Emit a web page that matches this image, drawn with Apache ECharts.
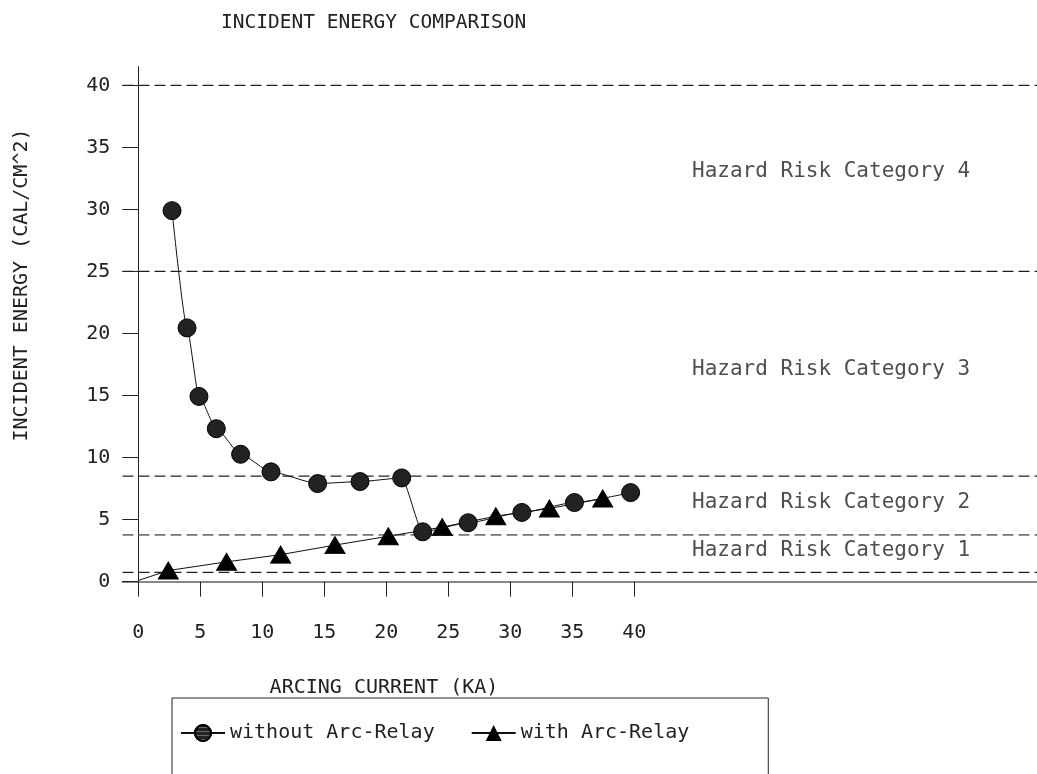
<!DOCTYPE html>
<html><head><meta charset="utf-8">
<script src="https://cdn.jsdelivr.net/npm/echarts@6/dist/echarts.min.js"></script>
<style>html,body{margin:0;padding:0;background:#fff}#c{width:1037px;height:774px}</style>
</head><body><div id="c"></div>
<script>
// ---- data ----
const xTicks = [0, 5, 10, 15, 20, 25, 30, 35, 40];
const yTicks = [0, 5, 10, 15, 20, 25, 30, 35, 40];
const withoutX = [2.72, 3.93, 4.89, 6.29, 8.25, 10.7, 14.46, 17.88, 21.24, 22.93, 26.6, 30.93, 35.17, 39.7];
const withoutY = [29.9, 20.45, 14.93, 12.33, 10.27, 8.85, 7.91, 8.07, 8.36, 4.02, 4.75, 5.58, 6.38, 7.18];
const withX = [0, 2.42, 7.12, 11.48, 15.86, 20.16, 24.51, 28.83, 33.15, 37.45];
const withY = [0.1, 0.9, 1.6, 2.18, 2.95, 3.66, 4.4, 5.28, 5.9, 6.7];
const hazardBounds = [0.75, 3.78, 8.5, 25, 40];
const hazardLabels = ['Hazard Risk Category 1', 'Hazard Risk Category 2', 'Hazard Risk Category 3', 'Hazard Risk Category 4'];
const hazardLabelY = [2.48, 6.35, 17.07, 33.04];
const hazardLabelX = 44.65;
const seriesNames = ['without Arc-Relay', 'with Arc-Relay'];

// ---- chart ----
const FONT = '"DejaVu Sans Mono", monospace';
const TXT = '#222';
const chart = echarts.init(document.getElementById('c'), null, {renderer: 'canvas'});

const withoutData = withoutX.map((x, i) => [x, withoutY[i]]);
const withData = withX.map((x, i) => i === 0 ? {value: [x, withY[i]], symbol: 'none'} : [x, withY[i]]);

const boundSeries = hazardBounds.map((v, i) => ({
  type: 'line', xAxisIndex: 1, yAxisIndex: 1, silent: true, symbol: 'none',
  data: [[0, v], [1, v]],
  lineStyle: {type: [11, 5], width: i === 1 ? 1.8 : 1.2, color: i === 1 ? '#777' : '#222'},
  z: 1
}));

const hatch = {symbol: 'rect', symbolSize: 1, dashArrayX: [1, 0], dashArrayY: [1, 3], color: 'rgba(150,150,150,0.6)', rotation: 0};

const option = {
  animation: false,
  backgroundColor: '#fff',
  title: {
    text: 'INCIDENT ENERGY COMPARISON', left: 216, top: 8,
    textStyle: {fontFamily: FONT, fontSize: 19.5, fontWeight: 'normal', color: TXT}
  },
  legend: {
    data: seriesNames.map(n => ({name: n})),
    left: 172, top: 698, orient: 'horizontal',
    borderColor: '#222', borderWidth: 1,
    padding: [25, 79, 50, 8],
    itemWidth: 44, itemHeight: 20, itemGap: 36,
    textStyle: {fontFamily: FONT, fontSize: 20, color: TXT}
  },
  grid: [
    {left: 138.3, right: 0, top: 66.7, bottom: 192.3, containLabel: false},
    {left: 122.5, right: 0, top: 66.7, bottom: 192.3, containLabel: false}
  ],
  xAxis: [
    {
      type: 'value', gridIndex: 0, min: 0, max: 72.47, interval: 5,
      axisLine: {show: false},
      axisTick: {show: true, length: 15, lineStyle: {color: '#222', width: 1}, customValues: xTicks},
      axisLabel: {show: true, margin: 41, fontFamily: FONT, fontSize: 20, color: TXT, customValues: xTicks},
      splitLine: {show: false}
    },
    {
      type: 'value', gridIndex: 1, min: 0, max: 1,
      axisLine: {show: true, lineStyle: {color: '#888', width: 2}},
      axisTick: {show: false}, axisLabel: {show: false}, splitLine: {show: false}
    }
  ],
  yAxis: [
    {
      type: 'value', gridIndex: 0, min: 0, max: 41.5, interval: 5,
      axisLine: {show: true, onZero: false, lineStyle: {color: '#222', width: 1}},
      axisTick: {show: true, length: 16, lineStyle: {color: '#222', width: 1}, customValues: yTicks},
      axisLabel: {show: true, margin: 28, fontFamily: FONT, fontSize: 20, color: TXT, customValues: yTicks},
      splitLine: {show: false}
    },
    {
      type: 'value', gridIndex: 1, min: 0, max: 41.5, show: false
    }
  ],
  graphic: [
    {type: 'text', x: 384, y: 688, style: {text: 'ARCING CURRENT (KA)', font: '20px ' + FONT, fill: TXT, textAlign: 'center', textVerticalAlign: 'middle'}},
    {type: 'text', x: 22, y: 285, rotation: Math.PI / 2, style: {text: 'INCIDENT ENERGY (CAL/CM^2)', font: '20px ' + FONT, fill: TXT, textAlign: 'center', textVerticalAlign: 'middle'}}
  ],
  series: [
    ...boundSeries,
    {
      name: seriesNames[1], type: 'line', xAxisIndex: 0, yAxisIndex: 0,
      data: withData, symbol: 'triangle', symbolSize: [20, 17], showSymbol: true,
      lineStyle: {color: '#111', width: 1}, itemStyle: {color: '#000', borderColor: '#000'},
      z: 3
    },
    {
      name: seriesNames[0], type: 'line', xAxisIndex: 0, yAxisIndex: 0,
      data: withoutData, symbol: 'circle', symbolSize: 18, showSymbol: true,
      smooth: 0.2, smoothMonotone: 'x',
      lineStyle: {color: '#111', width: 1},
      itemStyle: {color: '#222', borderColor: '#000', borderWidth: 1, decal: hatch},
      z: 4
    },
    {
      type: 'scatter', xAxisIndex: 0, yAxisIndex: 0, silent: true, symbolSize: 0,
      data: hazardLabelY.map((y, i) => ({value: [hazardLabelX, y], name: hazardLabels[i]})),
      label: {show: true, position: 'right', distance: 0, formatter: p => p.name,
        fontFamily: FONT, fontSize: 21, color: TXT},
      z: 2
    }
  ]
};
chart.setOption(option);
</script>
</body></html>
